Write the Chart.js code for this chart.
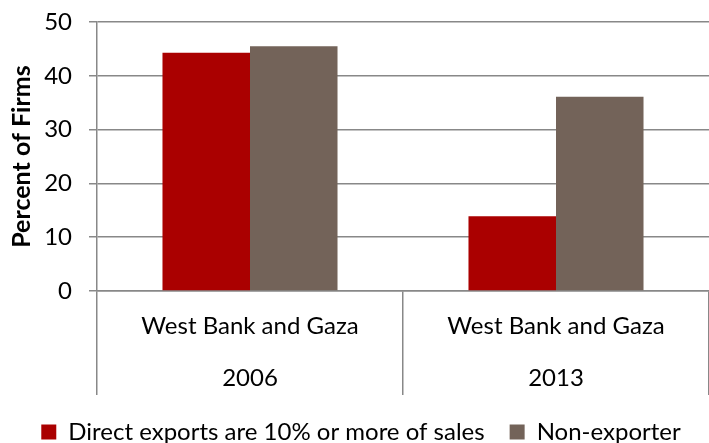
<!DOCTYPE html>
<html>
<head>
  <title>Percent of Firms</title>
  <script src="https://cdn.jsdelivr.net/npm/chart.js@4"></script>
  <style>
    html, body { margin: 0; padding: 0; background: #fff; }
    .chart-container { width: 709px; height: 443px; }
  </style>
</head>
<body>
  <div class="chart-container">
    <canvas id="firmsChart"></canvas>
  </div>
  <script>
    // values
    var regions = ['West Bank and Gaza', 'West Bank and Gaza'];
    var years = ['2006', '2013'];
    var directExports = [44.3, 13.9];
    var nonExporter = [45.5, 36.1];
    var yTicks = [0, 10, 20, 30, 40, 50];

    var labels = regions.map(function(r, i) { return [r, years[i]]; });
    var gridColor = '#888888';
    var font = 'Lato';

    var ctx = document.getElementById('firmsChart').getContext('2d');
    var chart = new Chart(ctx, {
      type: 'bar',
      data: {
        labels: labels,
        datasets: [{
          label: 'Direct exports are 10% or more of sales',
          data: directExports,
          backgroundColor: '#AA0000',
          categoryPercentage: 0.572,
          barPercentage: 1
        }, {
          label: 'Non-exporter',
          data: nonExporter,
          backgroundColor: '#736359',
          categoryPercentage: 0.572,
          barPercentage: 1
        }]
      },
      options: {
        responsive: true,
        maintainAspectRatio: false,
        animation: false,
        // left padding pushes the legend centre a bit to the right, like the original
        layout: { padding: { top: 0, right: 0, bottom: -11, left: 13 } },
        plugins: {
          tooltip: { enabled: false },
          legend: {
            position: 'bottom',
            labels: {
              boxWidth: 15,
              boxHeight: 15,
              padding: 25,
              color: '#000',
              font: { family: font, size: 24 }
            }
          }
        },
        scales: {
          x: {
            offset: true,
            grid: {
              offset: true,
              drawOnChartArea: false,
              color: gridColor,
              lineWidth: 1.5,
              tickLength: 104
            },
            border: { color: gridColor, width: 1.5 },
            // labels sit between the long separator ticks
            afterFit: function(axis) { axis.height = 104; },
            ticks: {
              padding: -95,
              maxRotation: 0,
              color: '#000',
              font: { family: font, size: 24, lineHeight: 2.1667 }
            }
          },
          y: {
            min: 0,
            max: 50,
            afterBuildTicks: function(axis) {
              axis.ticks = yTicks.map(function(v) { return { value: v }; });
            },
            afterFit: function(axis) { axis.width = 84; },
            grid: { color: gridColor, lineWidth: 1.5, tickLength: 8 },
            border: { color: gridColor, width: 1.5 },
            ticks: {
              padding: 17,
              color: '#000',
              font: { family: font, size: 24, lineHeight: 0.42 }
            },
            title: {
              display: true,
              text: 'Percent of Firms',
              color: '#000',
              padding: { top: -6, bottom: 0 },
              font: { family: font, size: 25, weight: 'bold' }
            }
          }
        }
      }
    });
  </script>
</body>
</html>
